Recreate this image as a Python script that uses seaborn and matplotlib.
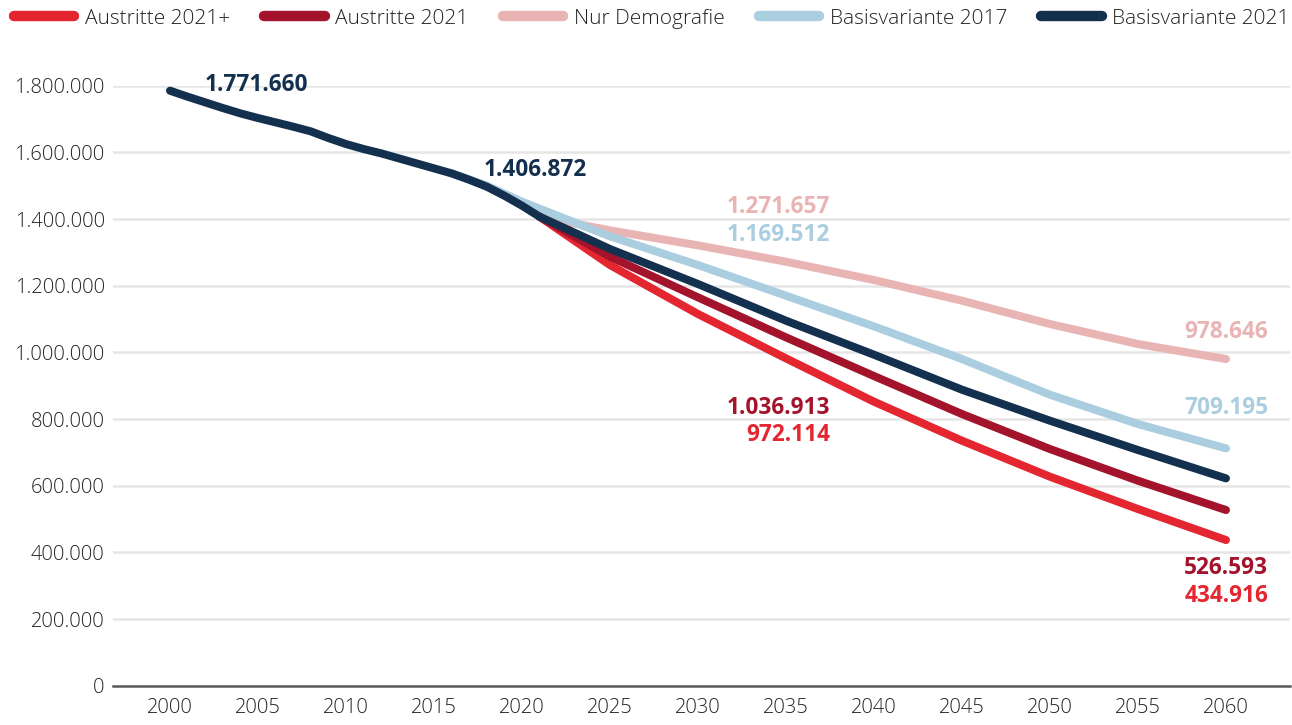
import numpy as np
import pandas as pd
import seaborn as sns
import matplotlib
matplotlib.use("Agg")
import matplotlib.pyplot as plt
from matplotlib.lines import Line2D

# ---------------- data (in persons) ----------------
series_names = ["Austritte 2021+", "Austritte 2021", "Nur Demografie",
                "Basisvariante 2017", "Basisvariante 2021"]
series_colors = ["#e3262f", "#a3142c", "#e9b4b4", "#abcde0", "#14304f"]

# Basisvariante 2021 (history + projection)
years_b21 = [2000, 2001, 2002, 2003, 2004, 2005, 2006, 2007, 2008, 2009, 2010,
             2011, 2012, 2013, 2014, 2015, 2016, 2017, 2018, 2019, 2020, 2021,
             2025, 2030, 2035, 2040, 2045, 2050, 2055, 2060]
values_b21 = [1785000, 1767000, 1750000, 1733000, 1717000, 1703000, 1690000,
              1677000, 1663000, 1643000, 1625000, 1610000, 1597000, 1582000,
              1567000, 1552000, 1537000, 1518000, 1497000, 1470000, 1440000,
              1407000, 1310000, 1205000, 1095000, 993000, 888000, 795000,
              707000, 622000]

# Basisvariante 2017
years_b17 = [2016, 2018, 2020, 2025, 2030, 2035, 2040, 2045, 2050, 2055, 2060]
values_b17 = [1537000, 1500000, 1452000, 1348000, 1262000, 1170000, 1078000,
              980000, 873000, 785000, 712000]

# projection years for the 2021-based scenarios
years_proj = [2021, 2025, 2030, 2035, 2040, 2045, 2050, 2055, 2060]
values_demo = [1407000, 1366000, 1321000, 1272000, 1217000, 1155000, 1085000,
               1025000, 980000]
values_aus21 = [1407000, 1287000, 1165000, 1045000, 929000, 815000, 710000,
                615000, 527000]
values_aus21p = [1407000, 1262000, 1115000, 982000, 852000, 735000, 627000,
                 530000, 437000]

# labelled values as printed on the chart
label_texts = [1771660, 1406872, 1271657, 1169512, 1036913, 972114,
               978646, 709195, 526593, 434916]
label_series = ["Basisvariante 2021", "Basisvariante 2021", "Nur Demografie",
                "Basisvariante 2017", "Austritte 2021", "Austritte 2021+",
                "Nur Demografie", "Basisvariante 2017", "Austritte 2021",
                "Austritte 2021+"]

y_ticks = [0, 200000, 400000, 600000, 800000, 1000000, 1200000, 1400000,
           1600000, 1800000]
x_ticks = list(range(2000, 2061, 5))

# ---------------- build table ----------------
frames = []
for name, yrs, vals in [
    ("Nur Demografie", years_proj, values_demo),
    ("Basisvariante 2017", years_b17, values_b17),
    ("Austritte 2021+", years_proj, values_aus21p),
    ("Austritte 2021", years_proj, values_aus21),
    ("Basisvariante 2021", years_b21, values_b21),
]:
    frames.append(pd.DataFrame({"year": yrs, "value": vals, "series": name}))
df = pd.concat(frames, ignore_index=True)
palette = dict(zip(series_names, series_colors))
draw_order = ["Nur Demografie", "Basisvariante 2017", "Austritte 2021+",
              "Austritte 2021", "Basisvariante 2021"]

# ---------------- plot ----------------
sns.set_style("white")
plt.rcParams['font.family'] = ['Open Sans', 'DejaVu Sans']

W, H = 1292, 725
fig = plt.figure(figsize=(W / 100, H / 100), dpi=100)
ax = fig.add_axes([113 / W, (H - 685.7) / H, (1290 - 113) / W, 600 / H])

for name in draw_order:
    sub = df[df["series"] == name]
    sns.lineplot(data=sub, x="year", y="value", color=palette[name],
                 linewidth=5.8, sort=False, ax=ax, legend=False)
for ln in ax.lines:
    ln.set_solid_capstyle("round")
    ln.set_solid_joinstyle("round")
    ln.set_clip_on(False)

ax.set_xlim(1996.76, 2063.64)
ax.set_ylim(0, 1800000)
ax.set_xticks(x_ticks)
ax.set_yticks(y_ticks)
ax.set_yticklabels([f"{v:,}".replace(",", ".") for v in y_ticks])
ax.set_xlabel("")
ax.set_ylabel("")
ax.yaxis.grid(True, color="#e6e6e6", linewidth=1.8)
ax.xaxis.grid(False)
ax.set_axisbelow(True)
for s in ["left", "right", "top"]:
    ax.spines[s].set_visible(False)
ax.spines["bottom"].set_color("#5a5a5a")
ax.spines["bottom"].set_linewidth(1.8)
ax.tick_params(axis="both", length=0, labelsize=14.5, colors="#222222")
ax.tick_params(axis="x", pad=9)
ax.tick_params(axis="y", pad=6)
for lab in ax.get_xticklabels() + ax.get_yticklabels():
    lab.set_fontweight(300)

# ---------------- value labels ----------------
# (x, y, ha) positions of the printed labels
label_pos = [(2001.99, 1802000, "left"), (2017.84, 1547000, "left"),
             (2037.5, 1436000, "right"), (2037.5, 1352000, "right"),
             (2037.5, 833000, "right"), (2037.5, 752000, "right"),
             (2062.39, 1061000, "right"), (2062.39, 833000, "right"),
             (2062.39, 353000, "right"), (2062.39, 269000, "right")]
for val, ser, (lx, ly, ha) in zip(label_texts, label_series, label_pos):
    ax.text(lx, ly, f"{val:,}".replace(",", "."), ha=ha, va="center",
            fontsize=16.3, fontweight="bold", color=palette[ser], clip_on=False)

# ---------------- legend ----------------
handles = [Line2D([0], [0], color=palette[n], linewidth=7.5,
                  solid_capstyle="round") for n in series_names]
leg = fig.legend(handles, series_names, loc="upper left",
                 bbox_to_anchor=(0.004, 1.0), ncol=5, frameon=False,
                 fontsize=15, handlelength=2.9, handletextpad=0.5,
                 columnspacing=1.65, borderaxespad=0.02,
                 labelcolor="#222222")
for t in leg.get_texts():
    t.set_fontweight(300)

fig.savefig("out.png", dpi=100)
